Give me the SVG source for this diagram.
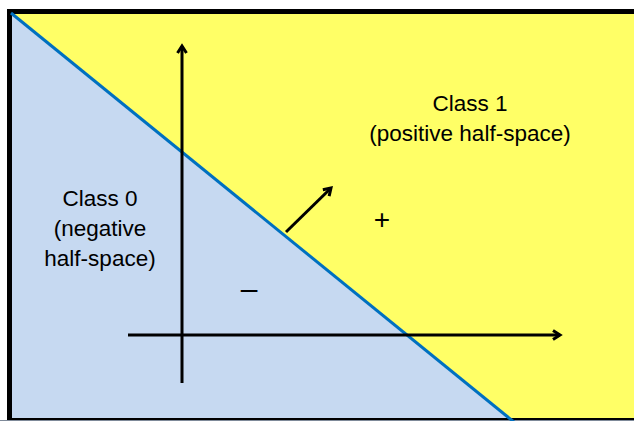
<svg xmlns="http://www.w3.org/2000/svg" width="634" height="421" viewBox="0 0 634 421">
<style>
.t{font-family:"Liberation Sans",Arial,sans-serif;font-size:22.5px;fill:#000;text-anchor:middle}
.ax{stroke:#000;stroke-width:3;fill:none}
</style>
<defs>
<marker id="ah" markerWidth="12" markerHeight="12" refX="8" refY="6" orient="auto" markerUnits="userSpaceOnUse" viewBox="0 0 12 12">
<path d="M1,1.5 L8,6 L1,10.5" fill="none" stroke="#000" stroke-width="3"/>
</marker>
</defs>
<rect x="0" y="0" width="634" height="421" fill="#fff"/>
<g id="regions">
<rect x="10" y="12" width="630" height="412" fill="#FFFF66"/>
<polygon points="10,12 514,421 10,421" fill="#C6D9F1"/>
<rect x="9.5" y="11.5" width="640" height="409" fill="none" stroke="#000" stroke-width="5"/>
<line x1="0" y1="420.5" x2="634" y2="420.5" stroke="#7F8A99" stroke-width="1"/>
<line x1="11" y1="13" x2="514" y2="422" stroke="#0070C0" stroke-width="3"/>
</g>
<g id="connectors">
<line class="ax" x1="182" y1="383" x2="182" y2="46" marker-end="url(#ah)"/>
<line class="ax" x1="128" y1="335" x2="560" y2="335" marker-end="url(#ah)"/>
<line class="ax" x1="286" y1="232" x2="331" y2="188" marker-end="url(#ah)"/>
</g>
<g id="class1">
<text class="t" x="470" y="111">Class 1</text>
<text class="t" x="470" y="141">(positive half-space)</text>
</g>
<g id="class0">
<text class="t" x="100" y="206">Class 0</text>
<text class="t" x="100" y="236">(negative</text>
<text class="t" x="100" y="266">half-space)</text>
</g>
<g id="signs">
<text class="t" x="382" y="229" style="font-size:28px">+</text>
<text class="t" x="249" y="299" style="font-size:30px">–</text>
</g>
</svg>
